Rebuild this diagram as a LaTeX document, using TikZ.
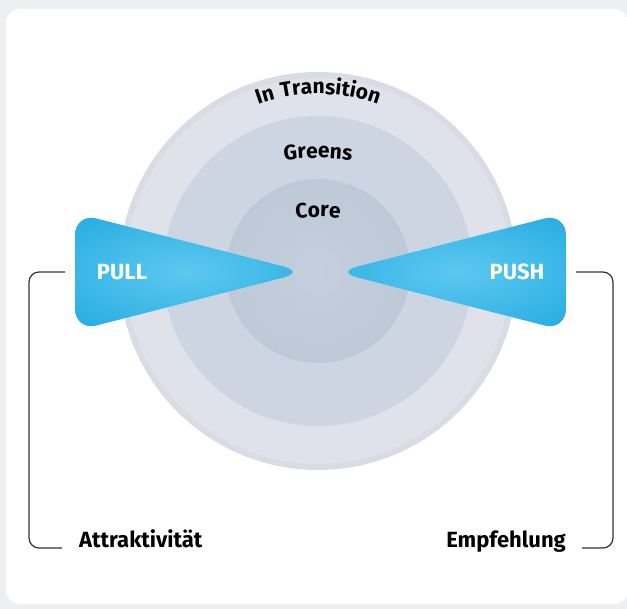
\documentclass[tikz,border=0pt]{standalone}
\usepackage{fontspec}
\setmainfont{Fira Sans}
\newfontfamily\ringfont[LetterSpace=6]{Fira Sans}
\usetikzlibrary{decorations.text}

\definecolor{pagegray}{HTML}{EEEFF1}
\definecolor{halogray}{HTML}{D9DCE5}
\definecolor{ringouter}{HTML}{DFE2EB}
\definecolor{ringouteredge}{HTML}{D5D9E4}
\definecolor{ringmiddle}{HTML}{CCD5E1}
\definecolor{ringmiddleedge}{HTML}{C0CBDA}
\definecolor{ringinner}{HTML}{C4CFDD}
\definecolor{ringinneredge}{HTML}{A9B8CB}
\definecolor{bladelight}{HTML}{5CC8F0}
\definecolor{blademid}{HTML}{1DA7DE}
\definecolor{bladeedge}{HTML}{0B86C0}
\definecolor{bracketgray}{HTML}{333333}

\pgfdeclareradialshading{haloshade}{\pgfpoint{0bp}{0bp}}{color(0bp)=(halogray); color(48.5bp)=(halogray); color(50bp)=(white)}
\pgfdeclareradialshading{outershade}{\pgfpoint{0bp}{0bp}}{color(0bp)=(ringouter); color(44bp)=(ringouter); color(50bp)=(ringouteredge)}
\pgfdeclareradialshading{middleshade}{\pgfpoint{0bp}{0bp}}{color(0bp)=(ringmiddle); color(44bp)=(ringmiddle); color(50bp)=(ringmiddleedge)}
\pgfdeclareradialshading{innershade}{\pgfpoint{0bp}{0bp}}{color(0bp)=(ringinner); color(30bp)=(ringinner!70!ringinneredge); color(50bp)=(ringinneredge)}
\pgfdeclareradialshading{bladeglow}{\pgfpoint{0bp}{0bp}}{color(0bp)=(bladelight); color(12bp)=(bladelight!60!blademid); color(30bp)=(blademid); color(50bp)=(bladeedge)}

\tikzset{
  bracketline/.style={line width=1.2pt, draw=bracketgray, rounded corners=10pt},
  captiontext/.style={font=\fontsize{22}{26}\selectfont\bfseries, inner sep=0pt},
  bladetext/.style={captiontext, text=white},
  ringtext/.style={decorate, decoration={text along path, text align=center,
        text={|\ringfont\fontsize{21}{26}\selectfont\bfseries|#1}}},
  pullshape/.style={insert path={(305,337) -- (75,396) -- (75,278) -- cycle}},
  pushshape/.style={insert path={(336,337) -- (566,396) -- (566,278) -- cycle}},
}

\begin{document}
\begin{tikzpicture}[x=1pt, y=1pt]
    \clip (0,0) rectangle (627,609);
    \fill[pagegray] (0,0) rectangle (627,609);
    \fill[white, rounded corners=14pt] (6,5) rectangle (628,600);

    % rings
    \coordinate (ctr) at (318,338);
    \shade[shading=haloshade] (ctr) circle (199);
    \shade[shading=outershade] (ctr) circle (193);
    \shade[shading=middleshade] (ctr) circle (155);
    \shade[shading=innershade] (ctr) circle (92);

    \path[ringtext={In Transition}] (318,338) ++(135:177) arc (135:45:177);
    \path[ringtext={Greens}] (318,201) ++(105:250) arc (105:75:250);
    \path[ringtext={Core}] (318,172) ++(100:220) arc (100:80:220);

    % blades
    \begin{scope}
        \clip[rounded corners=22, pullshape];
        \shade[shading=bladeglow] (185,337) ellipse (170 and 72);
    \end{scope}
    \begin{scope}
        \clip[rounded corners=22, pushshape];
        \shade[shading=bladeglow] (456,337) ellipse (170 and 72);
    \end{scope}

    \node[bladetext] (pull) at (122,337) {PULL};
    \node[bladetext] (push) at (517,337) {PUSH};
    \coordinate (pullend) at (75,337);
    \coordinate (pushend) at (566,337);

    \node[captiontext, anchor=base west] (attr) at (79,61) {Attraktivität};
    \node[captiontext, anchor=base east] (empf) at (566,61) {Empfehlung};

    \draw[bracketline] ([xshift=-10]pullend) -- ++(-36,0) |- ([xshift=-17]attr.base west);
    \draw[bracketline] ([xshift=10]pushend) -- ++(37,0) |- ([xshift=16]empf.base east);
\end{tikzpicture}
\end{document}
